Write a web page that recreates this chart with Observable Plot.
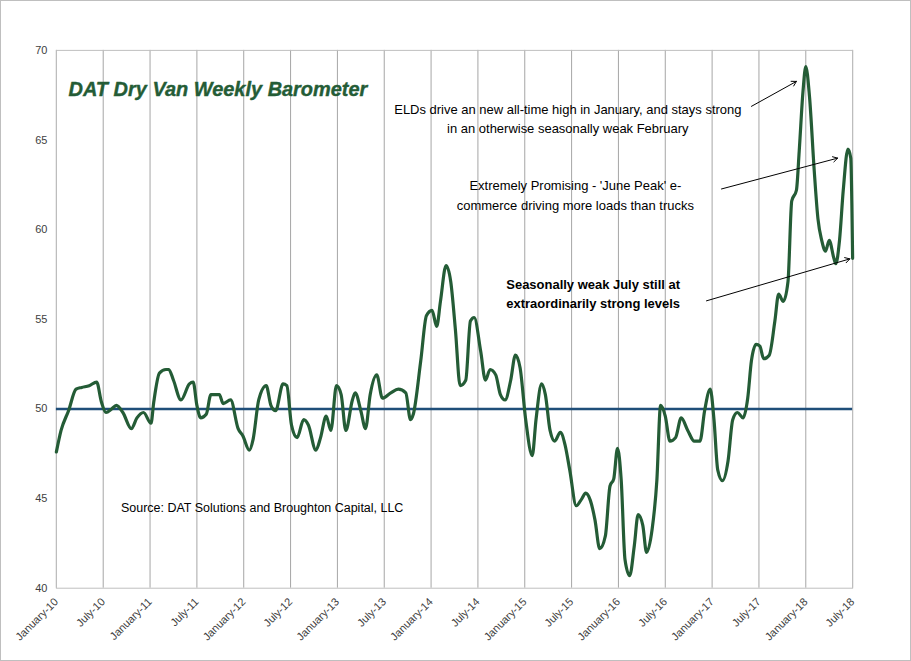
<!DOCTYPE html>
<html><head><meta charset="utf-8">
<script src="https://cdn.jsdelivr.net/npm/d3@7"></script>
<script src="https://cdn.jsdelivr.net/npm/@observablehq/plot@0.6"></script>
<style>body{margin:0;background:#fff;font-family:"Liberation Sans",Arial,sans-serif}
#c{border:1px solid #bfbfbf;box-sizing:border-box;width:911px;height:661px;overflow:hidden}</style>
</head><body><div id="c"></div>
<script>
// years since Jan 2010
const t = [0.00,.05,.13,.21,.27,.35,.43,.48,.53,.59,.64,.71,.80,.86,.93,1.01,1.04,1.10,1.17,1.20,1.25,1.33,1.42,1.46,1.50,1.54,1.60,1.65,1.74,1.78,1.86,1.94,1.99,2.06,2.10,2.16,2.24,2.29,2.34,2.42,2.46,2.51,2.57,2.64,2.69,2.77,2.82,2.88,2.93,2.99,3.04,3.09,3.16,3.19,3.25,3.30,3.35,3.42,3.48,3.57,3.65,3.73,3.78,3.81,3.89,3.95,4.01,4.06,4.10,4.16,4.21,4.26,4.31,4.37,4.42,4.46,4.53,4.58,4.63,4.69,4.74,4.79,4.85,4.90,4.95,5.01,5.08,5.12,5.18,5.22,5.27,5.32,5.38,5.43,5.48,5.55,5.61,5.65,5.70,5.75,5.80,5.86,5.91,5.95,5.99,6.03,6.07,6.12,6.17,6.21,6.26,6.30,6.36,6.41,6.45,6.50,6.55,6.61,6.67,6.74,6.81,6.87,6.92,6.98,7.02,7.06,7.11,7.17,7.22,7.27,7.33,7.38,7.42,7.47,7.51,7.55,7.61,7.67,7.71,7.76,7.81,7.85,7.90,7.93,7.97,8.00,8.04,8.09,8.13,8.17,8.21,8.25,8.30,8.32,8.36,8.40,8.45,8.48,8.50];
const v = [47.6,48.8,49.9,51.1,51.2,51.3,51.5,50.4,49.8,50.0,50.2,49.8,48.9,49.5,49.8,49.2,50.4,52.0,52.2,52.2,51.6,50.5,51.4,51.5,50.2,49.5,49.7,50.8,50.8,50.3,50.5,48.9,48.5,47.7,48.3,50.5,51.3,50.2,49.9,51.4,51.3,49.1,48.4,49.4,49.1,47.7,48.4,49.6,48.8,51.3,50.8,48.8,50.5,50.9,49.9,48.9,50.8,51.9,50.6,50.9,51.1,50.9,49.4,49.7,52.7,55.2,55.5,54.6,56.0,58.0,57.1,54.4,51.3,51.6,54.9,55.1,53.2,51.6,52.2,51.9,50.8,50.5,51.6,53.0,52.3,49.4,47.4,49.4,51.4,50.8,48.8,48.2,48.7,48.0,46.6,44.6,45.0,45.3,44.9,43.8,42.2,42.9,45.7,46.1,47.8,46.0,41.6,40.7,42.4,44.1,43.5,42.0,43.3,46.0,50.2,49.6,48.2,48.4,49.5,48.8,48.2,48.2,49.9,51.1,49.4,46.6,46.0,47.1,49.4,49.8,49.5,50.6,52.7,53.6,53.5,52.8,53.0,54.9,56.4,56.0,57.1,61.6,62.2,64.4,67.7,69.1,67.4,63.3,60.6,59.4,58.8,59.4,58.4,58.1,59.4,62.2,64.5,64.0,58.4];
const tickYears = d3.range(0, 8.51, 0.5);
const tickLabels = tickYears.map(y => (y % 1 === 0 ? "January-" : "July-") + String(10 + Math.floor(y)));
const yTicks = [40,45,50,55,60,65,70];
const notes = [
  {t:5.46, v:66.27, text:"ELDs drive an new all-time high in January, and stays strong\nin an otherwise seasonally weak February", bold:false},
  {t:5.54, v:62.0, text:"Extremely Promising - 'June Peak' e-\ncommerce driving more loads than trucks", bold:false},
  {t:5.73, v:56.5, text:"Seasonally weak July still at\nextraordinarily strong levels", bold:true}
];
const arrows = [
  {t1:7.42,v1:66.88,t2:7.90,v2:68.27},
  {t1:7.10,v1:62.27,t2:8.34,v2:63.99},
  {t1:6.94,v1:56.03,t2:8.47,v2:58.37}
];
const data = t.map((d,i)=>({t:d,v:v[i]}));
const fmt = d => tickLabels[tickYears.indexOf(d)];
const chart = Plot.plot({
  width: 911, height: 661,
  marginLeft: 55, marginRight: 58, marginTop: 49, marginBottom: 73,
  style:{fontFamily:"Liberation Sans, Arial, sans-serif", fontSize:"11px", color:"#404040"},
  x:{domain:[0,8.5], ticks:tickYears, tickFormat:fmt, tickRotate:-45, tickSize:0, label:null},
  y:{domain:[40,70], ticks:yTicks, tickSize:0, label:null},
  marks:[
    Plot.gridX(tickYears,{stroke:"#a6a6a6", strokeOpacity:1, strokeWidth:1}),
    Plot.frame({stroke:"#bfbfbf"}),
    Plot.ruleY([50],{stroke:"#1f4e79", strokeWidth:2.5}),
    Plot.line(data,{x:"t", y:"v", stroke:"#245c36", strokeWidth:3.2, curve:"monotone-x"}),
    Plot.text(["DAT Dry Van Weekly Barometer"],{x:0.13, y:67.8, textAnchor:"start", fontSize:20, fontWeight:"bold", fontStyle:"italic", fill:"#245c36", stroke:"#245c36", strokeWidth:0.4}),
    Plot.text(notes,{x:"t", y:"v", text:"text", fontSize:13, fill:"#000", lineHeight:1.5}),
    Plot.text(["Source: DAT Solutions and Broughton Capital, LLC"],{x:0.69, y:44.45, textAnchor:"start", fontSize:12.5, fill:"#000"}),
    Plot.arrow(arrows,{x1:"t1", y1:"v1", x2:"t2", y2:"v2", stroke:"#000", strokeWidth:1, headLength:8})
  ]
});
chart.querySelectorAll("text").forEach(n=>{ if(n.textContent.includes("Seasonally")) n.setAttribute("font-weight","bold"); });
document.getElementById("c").appendChild(chart);
</script></body></html>
